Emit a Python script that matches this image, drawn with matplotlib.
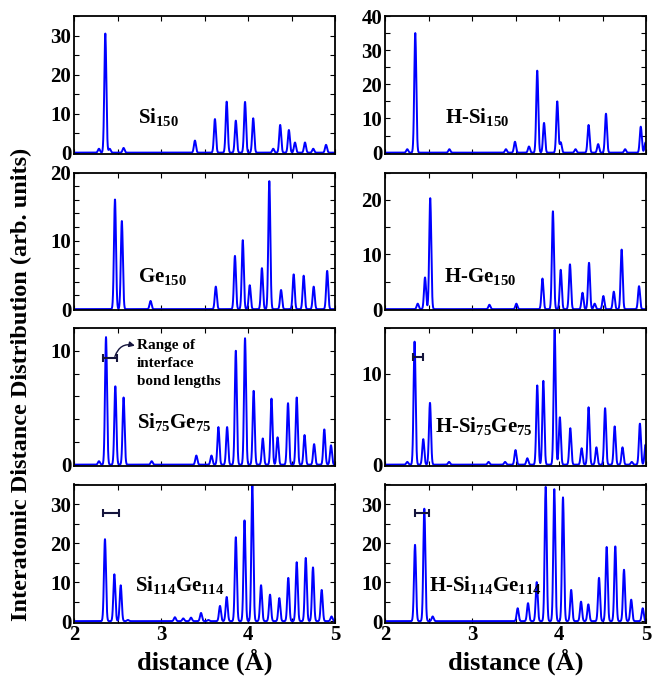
import numpy as np
import matplotlib
matplotlib.use("Agg")
import matplotlib.pyplot as plt
from matplotlib.ticker import MultipleLocator

plt.rcParams['font.family'] = ['Liberation Serif', 'DejaVu Serif']
plt.rcParams['font.weight'] = 'bold'
plt.rcParams['mathtext.fontset'] = 'custom'
plt.rcParams['mathtext.rm'] = 'Liberation Serif:bold'
plt.rcParams['mathtext.bf'] = 'Liberation Serif:bold'
plt.rcParams['mathtext.it'] = 'Liberation Serif:bold'

# peak positions (A) and heights
si150_pos = [2.287, 2.36, 2.41, 2.57, 3.39, 3.62, 3.755, 3.86, 3.966, 4.06, 4.29, 4.37, 4.47, 4.54, 4.655, 4.75, 4.897]
si150_h = [1, 30.5, 1, 1.2, 3.1, 8.6, 13.1, 8.2, 13, 8.8, 1, 7.1, 5.8, 2.6, 2.6, 1, 2]

hsi150_pos = [2.256, 2.348, 2.74, 3.39, 3.494, 3.655, 3.75, 3.828, 3.98, 4.02, 4.19, 4.34, 4.45, 4.54, 4.76, 4.94, 4.995]
hsi150_h = [1, 35, 1, 1, 3.2, 1.8, 24, 8.7, 15, 3, 1, 8.1, 2.5, 11.4, 1, 7.6, 3]

ge150_pos = [2.471, 2.55, 2.88, 3.63, 3.85, 3.94, 4.02, 4.16, 4.245, 4.38, 4.525, 4.64, 4.755, 4.91]
ge150_h = [16.1, 12.9, 1.2, 3.3, 7.8, 10.1, 3.5, 6, 18.8, 2.8, 5.1, 4.9, 3.3, 5.6]

hge150_pos = [2.376, 2.46, 2.52, 3.2, 3.51, 3.81, 3.93, 4.02, 4.126, 4.27, 4.345, 4.41, 4.51, 4.63, 4.72, 4.92]
hge150_h = [1, 5.8, 20.3, 0.8, 1, 5.6, 17.9, 7.2, 8.2, 3, 8.5, 1, 2.4, 3.2, 10.9, 4.2]

sige75_pos = [2.287, 2.368, 2.475, 2.57, 2.893, 3.406, 3.58, 3.66, 3.76, 3.86, 3.966, 4.065, 4.17, 4.27, 4.34, 4.46, 4.56, 4.65, 4.76, 4.877, 4.954]
sige75_h = [0.3, 11.2, 6.9, 5.9, 0.3, 0.8, 0.8, 3.3, 3.3, 10, 11.1, 6.5, 2.3, 5.8, 2.4, 5.4, 5.9, 2.6, 1.8, 3.1, 1.7]

hsige75_pos = [2.256, 2.34, 2.44, 2.517, 2.736, 3.19, 3.38, 3.5, 3.636, 3.75, 3.82, 3.95, 4.01, 4.13, 4.26, 4.34, 4.43, 4.53, 4.64, 4.73, 4.836, 4.93, 4.995]
hsige75_h = [0.3, 13.5, 2.8, 6.8, 0.3, 0.3, 0.3, 1.6, 0.7, 8.7, 9.2, 14.8, 5.2, 4, 1.8, 6.3, 1.9, 6.2, 4.2, 1.9, 0.3, 4.5, 2.2]

sige114_pos = [2.356, 2.464, 2.537, 2.62, 3.16, 3.256, 3.345, 3.46, 3.544, 3.678, 3.755, 3.86, 3.96, 4.05, 4.15, 4.253, 4.36, 4.463, 4.56, 4.664, 4.747, 4.847, 4.96]
sige114_h = [21, 12, 9.2, 0.3, 1, 0.7, 0.9, 2.1, 0.3, 3.9, 6.2, 21.5, 25.8, 34.8, 9.2, 6.8, 5.9, 11.1, 15.1, 16.2, 13.8, 8, 1.2]

hsige114_pos = [2.345, 2.452, 2.548, 3.525, 3.644, 3.744, 3.847, 3.946, 4.046, 4.14, 4.253, 4.337, 4.46, 4.548, 4.647, 4.747, 4.83, 4.962]
hsige114_h = [19.6, 28.8, 1.2, 3.3, 4.6, 10, 34.5, 33.8, 31.7, 8, 5, 4.3, 11.1, 19, 19.2, 13.2, 5.5, 3.3]

# range of interface bond lengths (min, max, y level)
range_sige75 = (2.337, 2.49, 9.4)
range_hsige75 = (2.318, 2.433, 11.8)
range_sige114 = (2.337, 2.52, 27.6)
range_hsige114 = (2.345, 2.51, 27.7)

labels = ['Si$_{150}$', 'H-Si$_{150}$', 'Ge$_{150}$', 'H-Ge$_{150}$',
          'Si$_{75}$Ge$_{75}$', 'H-Si$_{75}$Ge$_{75}$',
          'Si$_{114}$Ge$_{114}$', 'H-Si$_{114}$Ge$_{114}$']

panels = [
    (si150_pos, si150_h, 35, 5, (2.74, 7.6), None),
    (hsi150_pos, hsi150_h, 40, 5, (2.69, 8.7), None),
    (ge150_pos, ge150_h, 20, 2, (2.74, 3.9), None),
    (hge150_pos, hge150_h, 25, 5, (2.68, 5.0), None),
    (sige75_pos, sige75_h, 12, 2, (2.72, 3.2), range_sige75),
    (hsige75_pos, hsige75_h, 15, 5, (2.57, 3.6), range_hsige75),
    (sige114_pos, sige114_h, 35, 5, (2.70, 7.7), range_sige114),
    (hsige114_pos, hsige114_h, 35, 5, (2.51, 7.7), range_hsige114),
]

sigma = 0.0115
x = np.linspace(2, 5, 1501)

fig = plt.figure(figsize=(6.6, 6.79), dpi=100)
lefts = [74 / 660, 385 / 660]
bottoms = [1 - 154 / 679, 1 - 310.5 / 679, 1 - 466 / 679, 1 - 622.5 / 679]
w = 261 / 660
h = 138 / 679

for i, (pos, hts, ytop, minor, lab_xy, rng) in enumerate(panels):
    row, col = divmod(i, 2)
    ax = fig.add_axes([lefts[col], bottoms[row], w, h])
    y = np.zeros_like(x)
    for p, a in zip(pos, hts):
        y += a * np.exp(-0.5 * ((x - p) / sigma) ** 2)
    ax.plot(x, y, color='#0000ff', lw=1.4)
    ax.set_xlim(2, 5)
    ax.set_ylim(-0.01 * ytop, ytop)
    ax.xaxis.set_major_locator(MultipleLocator(1))
    ax.xaxis.set_minor_locator(MultipleLocator(0.5))
    ax.yaxis.set_major_locator(MultipleLocator(10))
    ax.yaxis.set_minor_locator(MultipleLocator(minor))
    ax.tick_params(which='both', direction='in', top=True, right=True,
                   length=3.5, width=0.8, labelsize=15, pad=2)
    for sp in ax.spines.values():
        sp.set_linewidth(1.3)
    if row < 3:
        ax.set_xticklabels([])
    else:
        ax.set_xlabel('distance (Å)', fontsize=19, fontweight='bold', labelpad=2)
    ax.text(lab_xy[0], lab_xy[1], labels[i], fontsize=15, fontweight='bold')
    if rng is not None:
        lo, hi, yl = rng
        ax.errorbar([(lo + hi) / 2], [yl], xerr=[(hi - lo) / 2], color='#14143c',
                    lw=1.5, capsize=3, capthick=1.5, fmt='none')
    if i == 4:
        ax.text(2.72, 11.0, 'Range of\ninterface\nbond lengths', fontsize=11,
                fontweight='bold', va='top', linespacing=1.5)
        ax.annotate('', xy=(2.7, 10.45), xytext=(2.47, 9.5),
                    arrowprops=dict(arrowstyle='-|>', color='#14143c', lw=1,
                                    mutation_scale=8,
                                    connectionstyle='arc3,rad=-0.45',
                                    shrinkA=0, shrinkB=0))

fig.text(0.033, 0.434, 'Interatomic Distance Distribution (arb. units)', rotation=90,
         ha='center', va='center', fontsize=17.5, fontweight='bold')

fig.savefig('out.png', dpi=100)
